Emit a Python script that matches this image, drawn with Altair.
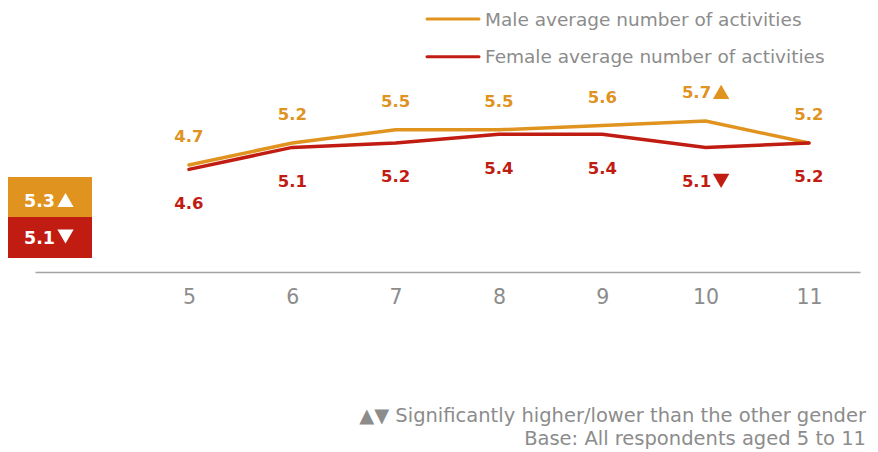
import altair as alt
import pandas as pd

# Ages on the x axis and the average number of activities per gender
ages = [5, 6, 7, 8, 9, 10, 11]
male = [4.7, 5.2, 5.5, 5.5, 5.6, 5.7, 5.2]
female = [4.6, 5.1, 5.2, 5.4, 5.4, 5.1, 5.2]
# significance flags: 1 = higher, -1 = lower than the other gender
male_sig = [0, 0, 0, 0, 0, 1, 0]
female_sig = [0, 0, 0, 0, 0, -1, 0]

series = ["Male average number of activities", "Female average number of activities"]
colors = ["#E0931F", "#C11C12"]

# overall averages shown in the boxes on the left
overall = [5.3, 5.1]
overall_sig = [1, -1]

footnotes = [
    "▲▼ Significantly higher/lower than the other gender",
    "Base: All respondents aged 5 to 11",
]

FONT = "DejaVu Sans"
GREY = "#8C8C8C"
SHAPES = {1: "triangle-up", -1: "triangle-down"}


def frame(values, sig, name):
    return pd.DataFrame({
        "age": ages,
        "value": values,
        "series": name,
        "sig": sig,
        "label": [f"{v:.1f}" for v in values],
    })


male_df = frame(male, male_sig, series[0])
female_df = frame(female, female_sig, series[1])

xs = alt.Scale(domain=[3.51, 11.494], nice=False, zero=False)
ys = alt.Scale(domain=[2.268, 8.45], nice=False, zero=False)

x_enc = alt.X(
    "age:Q",
    scale=xs,
    title=None,
    axis=alt.Axis(
        values=ages,
        format="d",
        grid=False,
        ticks=False,
        labelFont=FONT,
        labelFontSize=20.5,
        labelColor=GREY,
        labelPadding=15,
        domainColor="#A3A3A3",
        domainWidth=1.5,
    ),
)
y_enc = alt.Y("value:Q", scale=ys, axis=None)
xq = alt.X("age:Q", scale=xs)
yq = alt.Y("value:Q", scale=ys)

layers = []

# series lines (female drawn last, on top)
for df, col in [(male_df, colors[0]), (female_df, colors[1])]:
    layers.append(
        alt.Chart(df).mark_line(strokeWidth=3.5, color=col, strokeCap="round")
        .encode(x=x_enc, y=y_enc)
    )

# value labels: male above the line, female below; flagged values get a triangle
for df, col, dy, tri_dy in [
    (male_df, colors[0], -22.5, -29.2),
    (female_df, colors[1], 39.5, 33.5),
]:
    plain = df[df["sig"] == 0]
    flagged = df[df["sig"] != 0]
    layers.append(
        alt.Chart(plain).mark_text(
            font=FONT, fontSize=16.5, fontWeight="bold", color=col,
            align="center", baseline="alphabetic", dy=dy,
        ).encode(x=xq, y=yq, text="label:N")
    )
    layers.append(
        alt.Chart(flagged).mark_text(
            font=FONT, fontSize=16.5, fontWeight="bold", color=col,
            align="right", baseline="alphabetic", dx=5.5, dy=dy,
        ).encode(x=xq, y=yq, text="label:N")
    )
    for s, shape in SHAPES.items():
        sub = flagged[flagged["sig"] == s]
        if len(sub):
            layers.append(
                alt.Chart(sub).mark_point(
                    shape=shape, filled=True, size=270, color=col, opacity=1,
                    strokeWidth=0, xOffset=15.5, yOffset=tri_dy,
                ).encode(x=xq, y=yq)
            )

# overall boxes on the left
box_rows = [(-27, 57, 177, 217, 206.5, 200), (-27, 57, 217, 258, 243.5, 236.5)]
for i, (x0, x1, y0, y1, base, tri_y) in enumerate(box_rows):
    odf = pd.DataFrame({"label": [f"{overall[i]:.1f}"], "sig": [overall_sig[i]]})
    layers.append(
        alt.Chart(odf).mark_rect(color=colors[i]).encode(
            x=alt.value(x0), x2=alt.value(x1), y=alt.value(y0), y2=alt.value(y1)
        )
    )
    layers.append(
        alt.Chart(odf).mark_text(
            font=FONT, fontSize=17.5, fontWeight="bold", color="white",
            align="right", baseline="alphabetic",
        ).encode(x=alt.value(20), y=alt.value(base), text="label:N")
    )
    layers.append(
        alt.Chart(odf).mark_point(
            shape=SHAPES[overall_sig[i]], filled=True, size=265, color="white",
            opacity=1, strokeWidth=0,
        ).encode(x=alt.value(30.5), y=alt.value(tri_y))
    )

# legend drawn at the top right
legend_rows = [(19, 25.7), (56.7, 63.4)]
for i, (ly, tb) in enumerate(legend_rows):
    ldf = pd.DataFrame({"name": [series[i]]})
    layers.append(
        alt.Chart(ldf).mark_rule(strokeWidth=3, color=colors[i], strokeCap="round").encode(
            x=alt.value(392), x2=alt.value(444), y=alt.value(ly)
        )
    )
    layers.append(
        alt.Chart(ldf).mark_text(
            font=FONT, fontSize=18.5, color=GREY, align="left", baseline="alphabetic",
        ).encode(x=alt.value(450), y=alt.value(tb), text="name:N")
    )

# footnotes, right aligned
for i, tb in enumerate([422.3, 445.3]):
    fdf = pd.DataFrame({"note": [footnotes[i]]})
    layers.append(
        alt.Chart(fdf).mark_text(
            font=FONT, fontSize=19.5, color=GREY, align="right", baseline="alphabetic",
        ).encode(x=alt.value(831), y=alt.value(tb), text="note:N")
    )

chart = (
    alt.layer(*layers)
    .properties(
        width=825,
        height=272,
        padding={"left": 35, "right": 18, "top": 0, "bottom": 180},
        autosize=alt.AutoSizeParams(type="none"),
        background="white",
    )
    .configure_view(strokeWidth=0)
)

chart.save("out.html", embed_options={"renderer": "svg", "actions": False})
